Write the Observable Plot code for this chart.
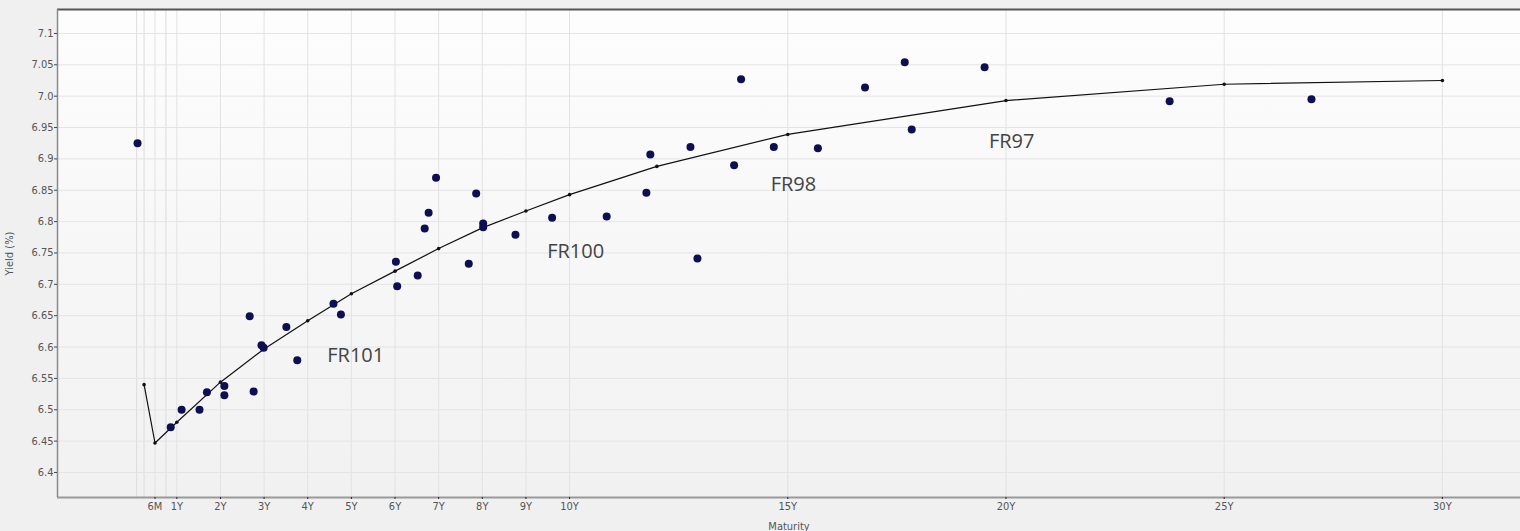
<!DOCTYPE html>
<html>
<head>
<meta charset="utf-8">
<script src="https://cdn.jsdelivr.net/npm/d3@7"></script>
<script src="https://cdn.jsdelivr.net/npm/@observablehq/plot@0.6"></script>
<style>
  html, body { margin: 0; padding: 0; background: #f0f0f0; }
  #chart { width: 1520px; height: 531px; }
</style>
</head>
<body>
<div id="chart"></div>
<script>
// Fitted yield curve (tenor in years, yield %)
const curveTenor = [0.25, 0.5, 1, 2, 3, 4, 5, 6, 7, 8, 9, 10, 12, 15, 20, 25, 30];
const curveYield = [6.54, 6.447, 6.48, 6.544, 6.597, 6.642, 6.685, 6.721, 6.757, 6.79, 6.817, 6.843, 6.888, 6.939, 6.993, 7.019, 7.025];

// Individual bonds (tenor in years, yield %)
const bondTenor = [0.10, 0.86, 1.11, 1.52, 1.69, 2.09, 2.09, 2.67, 2.76, 2.94, 2.99,
  3.51, 3.76, 4.59, 4.76, 6.02, 6.05, 6.52, 6.68, 6.77, 6.94,
  7.69, 7.86, 8.02, 8.02, 8.76, 9.6, 10.85, 11.76, 11.85,
  12.77, 12.93, 13.77, 13.93, 14.68, 15.69, 16.77, 17.68, 17.84, 19.51,
  23.75, 27.0];
const bondYield = [6.925, 6.472, 6.5, 6.5, 6.528, 6.538, 6.523, 6.649, 6.529, 6.603, 6.599,
  6.632, 6.579, 6.669, 6.652, 6.736, 6.697, 6.714, 6.789, 6.814, 6.87,
  6.733, 6.845, 6.797, 6.791, 6.779, 6.806, 6.808, 6.846, 6.907,
  6.919, 6.741, 6.89, 7.027, 6.919, 6.917, 7.014, 7.054, 6.947, 7.046,
  6.992, 6.995];

// Benchmark series labels
const seriesName = ["FR101", "FR100", "FR98", "FR97"];
const seriesTenor = [5.1, 10.14, 15.13, 20.13];
const seriesYield = [6.587, 6.752, 6.859, 6.928];

// Axis ticks
const xTickValues = [0.5, 1, 2, 3, 4, 5, 6, 7, 8, 9, 10, 15, 20, 25, 30];
const xTickLabels = ["6M", "1Y", "2Y", "3Y", "4Y", "5Y", "6Y", "7Y", "8Y", "9Y", "10Y", "15Y", "20Y", "25Y", "30Y"];
const xMinorGrid = [0.08, 0.25, 0.75];
const yTickValues = [6.4, 6.45, 6.5, 6.55, 6.6, 6.65, 6.7, 6.75, 6.8, 6.85, 6.9, 6.95, 7.0, 7.05, 7.1];
const yTickLabels = ["6.4", "6.45", "6.5", "6.55", "6.6", "6.65", "6.7", "6.75", "6.8", "6.85", "6.9", "6.95", "7.0", "7.05", "7.1"];

const curve = curveTenor.map((t, i) => ({t, y: curveYield[i]}));
const bonds = bondTenor.map((t, i) => ({t, y: bondYield[i]}));
const series = seriesName.map((name, i) => ({name, t: seriesTenor[i], y: seriesYield[i]}));

const xDomain = [-1.734, 31.79];
const yDomain = [6.3601, 7.1382];

const defsMark = () => {
  const g = d3.create("svg:g");
  const grad = g.append("defs").append("linearGradient")
    .attr("id", "plotbg").attr("x1", 0).attr("y1", 0).attr("x2", 0).attr("y2", 1);
  grad.append("stop").attr("offset", "0%").attr("stop-color", "#fdfdfd");
  grad.append("stop").attr("offset", "100%").attr("stop-color", "#f1f1f1");
  return g.node();
};

const tickFont = "'DejaVu Sans Condensed', 'Liberation Sans Narrow', sans-serif";

const chart = Plot.plot({
  width: 1520,
  height: 531,
  marginLeft: 57,
  marginTop: 9,
  marginRight: 0,
  marginBottom: 34,
  style: {background: "#f0f0f0", fontFamily: tickFont, fontSize: "11px", color: "#555"},
  x: {domain: xDomain},
  y: {domain: yDomain},
  marks: [
    defsMark,
    Plot.frame({fill: "url(#plotbg)", stroke: "none"}),
    Plot.gridX(xMinorGrid, {stroke: "#dcdcdc", strokeOpacity: 1, strokeWidth: 1}),
    Plot.gridX(xTickValues, {stroke: "#e2e2e2", strokeOpacity: 1}),
    Plot.gridY(yTickValues, {stroke: "#e4e4e4", strokeOpacity: 1}),
    Plot.ruleY([yDomain[1]], {stroke: "#555", strokeWidth: 2}),
    Plot.ruleY([yDomain[0]], {stroke: "#999", strokeWidth: 2}),
    Plot.ruleX([xDomain[0]], {stroke: "#8a8a8a", strokeWidth: 1.5}),
    Plot.axisX({
      ticks: xTickValues,
      tickFormat: (d) => xTickLabels[xTickValues.indexOf(d)],
      tickSize: 2,
      tickPadding: 3,
      stroke: "#222",
      fill: "#555",
      label: "Maturity",
      labelAnchor: "center",
      labelArrow: "none",
      labelOffset: 32,
      fontSize: 11
    }),
    Plot.axisY({
      ticks: yTickValues,
      tickFormat: (d) => yTickLabels[yTickValues.indexOf(d)],
      tickSize: 3,
      tickPadding: 1,
      stroke: "#444",
      fill: "#555",
      label: "Yield (%)",
      labelAnchor: "center",
      labelArrow: "none",
      labelOffset: 52,
      fontSize: 11
    }),
    Plot.line(curve, {x: "t", y: "y", curve: "linear", stroke: "#111", strokeWidth: 1.2}),
    Plot.dot(curve, {x: "t", y: "y", r: 1.8, fill: "#111", stroke: "none"}),
    Plot.dot(bonds, {x: "t", y: "y", r: 4, fill: "#0e0e52", stroke: "none"}),
    Plot.text(series, {x: "t", y: "y", text: "name", fontSize: 20, fill: "#444",
      fontFamily: "'Open Sans', 'Noto Sans', sans-serif"})
  ]
});

document.getElementById("chart").appendChild(chart);
</script>
</body>
</html>
